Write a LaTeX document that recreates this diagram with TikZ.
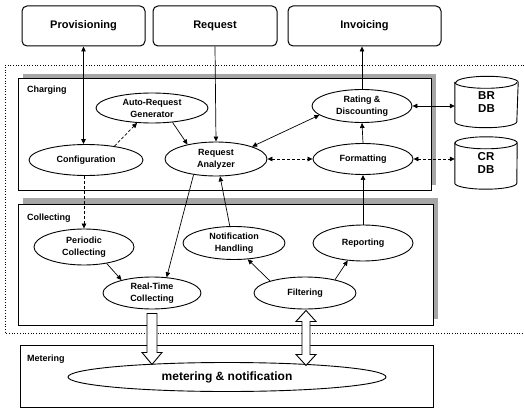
\documentclass[tikz,border=0pt]{standalone}
\usepackage{fontspec}
\setmainfont{Liberation Sans}
\usetikzlibrary{shapes.geometric,arrows.meta,calc}
\begin{document}
\begin{tikzpicture}[x=1pt,y=1pt,
  lbl/.style={font=\bfseries\fontsize{9}{12}\selectfont, align=center},
  proc/.style={ellipse, draw, line width=0.9pt, fill=white, inner sep=0pt, lbl},
  topbox/.style={draw, rounded corners=5pt, line width=1pt, inner sep=0pt,
    minimum height=40pt, font=\bfseries\fontsize{11}{13}\selectfont},
  layer/.style={draw, line width=1pt, fill=white},
  shade/.style={fill=black!35},
  tag/.style={anchor=west, inner sep=0pt, font=\bfseries\fontsize{9}{11}\selectfont},
  tip/.tip={Triangle[length=5pt,width=4.5pt]},
  conn/.style={line width=0.7pt, -tip},
  biconn/.style={line width=0.7pt, tip-tip},
  dashconn/.style={dash pattern=on 3pt off 2pt},
  dbtext/.style={inner sep=0pt, align=center, font=\bfseries\fontsize{11.5}{13}\selectfont},
  cyl/.style={draw, line width=0.9pt},
  hollow/.style={draw, line width=0.9pt, fill=white, line join=miter},
]
\useasboundingbox (0,0) rectangle (524,-409);

% dotted frame around the charging and collecting layers (open to the right)
\draw[dotted, line width=0.7pt] (524,-65) -- (5,-65) -- (5,-333) -- (524,-333);

% layers with their shaded offsets
\fill[shade] (23,-74) rectangle (436,-185);
\draw[layer] (18,-79) rectangle (431,-190);
\fill[shade] (23,-198) rectangle (438,-319);
\draw[layer] (18,-204) rectangle (433,-325);
\draw[layer] (20,-345) rectangle (433,-407);

\node[tag] (chg) at (27,-90) {Charging};
\node[tag] (col) at (27,-218) {Collecting};
\node[tag] (mtr) at (27,-359) {Metering};

% external systems
\node[topbox, minimum width=123pt] (prov) at (83.5,-26) {Provisioning};
\node[topbox, minimum width=124pt] (req) at (215,-26) {Request};
\node[topbox, minimum width=153pt] (inv) at (364.5,-26) {Invoicing};

% charging processes
\node[proc, minimum width=112pt, minimum height=30pt] (arg) at (152,-108) {Auto-Request\\Generator};
\node[proc, minimum width=114pt, minimum height=31pt] (cfg) at (86,-160) {Configuration};
\node[proc, minimum width=102pt, minimum height=34pt] (ra) at (216,-159) {Request\\Analyzer};
\node[proc, minimum width=100pt, minimum height=33pt] (rd) at (362,-106) {Rating \&\\Discounting};
\node[proc, minimum width=100pt, minimum height=31pt] (fmt) at (363,-159) {Formatting};

% collecting processes
\node[proc, minimum width=100pt, minimum height=36pt] (pc) at (84,-247) {Periodic\\Collecting};
\node[proc, minimum width=98pt, minimum height=32pt] (rt) at (152,-293) {Real-Time\\Collecting};
\node[proc, minimum width=102pt, minimum height=33pt] (nh) at (234,-243) {Notification\\Handling};
\node[proc, minimum width=102pt, minimum height=32pt] (flt) at (305,-293) {Filtering};
\node[proc, minimum width=100pt, minimum height=36pt] (rep) at (363,-243) {Reporting};

% metering
\node[proc, minimum width=318pt, minimum height=29pt, font=\bfseries\fontsize{12}{14}\selectfont] (met) at (227,-377) {metering \& notification};

% databases
\node[dbtext, minimum width=63pt, minimum height=51pt] (br) at (486.5,-102) {BR\\DB};
\node[dbtext, minimum width=62pt, minimum height=52pt] (cr) at (486,-163) {CR\\DB};
\foreach \db in {br,cr}{
  \draw[cyl] ([yshift=-6pt]\db.north west) -- ([yshift=6pt]\db.south west)
    arc[start angle=180, end angle=360, x radius=31pt, y radius=6pt]
    -- ([yshift=-6pt]\db.north east)
    arc[start angle=0, end angle=180, x radius=31pt, y radius=6pt] -- cycle;
  \draw[cyl] ([yshift=-6pt]\db.north west)
    arc[start angle=180, end angle=360, x radius=31pt, y radius=6pt];
}

% connectors
\draw[biconn] (prov.south) -- (prov.south |- cfg.north);
\draw[conn] (req.south) -- (ra.north);
\draw[conn] (rd.north) -- (rd.north |- inv.south);
\draw[conn, dashconn] (cfg.26) -- (arg.225);
\draw[conn] (arg.-35) -- (ra.153);
\draw[biconn] (ra.19) -- (rd.192);
\draw[biconn, dashconn] (ra.east) -- (fmt.west);
\draw[conn] (fmt.north) -- (rd.south);
\draw[biconn] (rd.east) -- (rd.east -| br.west);
\draw[biconn, dashconn] (fmt.east) -- (fmt.east -| cr.west);
\draw[conn] (rep.north) -- (fmt.south);
\draw[conn, dashconn] (pc.north |- cfg.south) -- (pc.north);
\draw[conn] (pc.-36) -- (rt.157);
\draw[conn] (ra.215) -- (rt.47);
\draw[conn] (nh.104) -- (ra.-77);
\draw[conn] (flt.161) -- (nh.-50);
\draw[conn] (flt.24) -- (rep.229);

% hollow block arrows towards the metering layer
\coordinate (rtfoot) at ($(rt.south)+(0,-4)$);
\coordinate (fltfoot) at ($(flt.south)+(1,-1)$);
\draw[hollow] (rtfoot) ++(-5,0) -- ++(10,0) -- ++(0,-39) -- ++(5,0) -- ++(-10,-12)
  -- ++(-10,12) -- ++(5,0) -- cycle;
\draw[hollow] (fltfoot) -- ++(10,-11) -- ++(-6,0) -- ++(0,-33) -- ++(6,0) -- ++(-10,-11)
  -- ++(-10,11) -- ++(6,0) -- ++(0,33) -- ++(-6,0) -- cycle;
\end{tikzpicture}
\end{document}
